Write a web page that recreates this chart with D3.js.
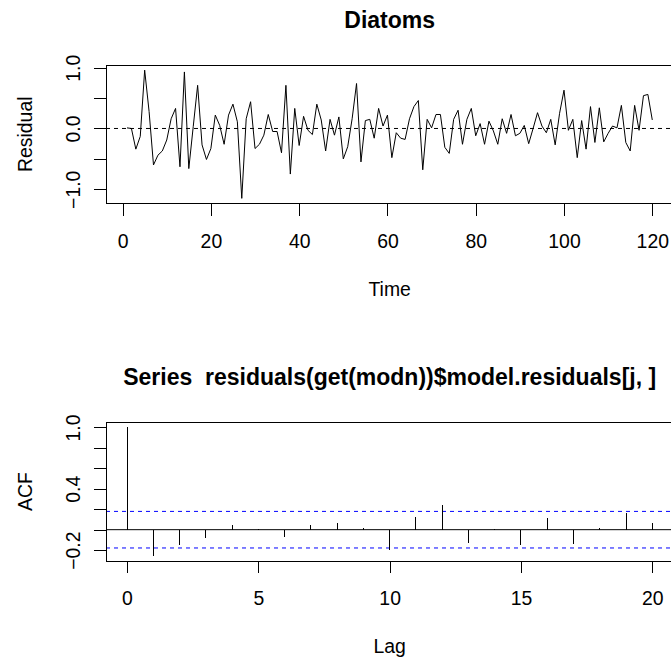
<!DOCTYPE html>
<html>
<head>
<meta charset="utf-8">
<script src="https://cdn.jsdelivr.net/npm/d3@7/dist/d3.min.js"></script>
<style>
  html, body { margin: 0; padding: 0; background: #fff; }
  svg { display: block; }
  text { font-family: "Liberation Sans", Arial, Helvetica, sans-serif; fill: #000; }
</style>
</head>
<body>
<div id="chart"></div>
<script>
// ---------------- DATA ----------------
const residuals = [
  0.01, 0.00, -0.34, -0.13, 0.96, 0.28, -0.60, -0.44, -0.37, -0.19,
  0.16, 0.33, -0.63, 0.93, -0.66, 0.03, 0.71, -0.27, -0.51, -0.33,
  0.22, 0.05, -0.26, 0.22, 0.40, 0.11, -1.15, 0.16, 0.44, -0.33,
  -0.26, -0.11, 0.23, -0.05, -0.05, -0.40, 0.71, -0.75, 0.33, -0.28,
  0.20, -0.03, -0.10, 0.40, 0.14, -0.37, 0.15, -0.11, 0.19, -0.50,
  -0.30, 0.16, 0.74, -0.55, 0.13, 0.15, -0.16, 0.33, 0.04, 0.22,
  -0.48, -0.07, -0.16, -0.18, 0.16, 0.36, 0.46, -0.68, 0.15, 0.01,
  0.23, 0.23, -0.31, -0.41, 0.15, 0.30, -0.26, 0.15, 0.33, -0.12,
  0.08, -0.26, 0.12, -0.04, -0.26, 0.16, -0.08, 0.23, -0.12, -0.08,
  0.05, -0.25, 0.00, 0.26, 0.04, -0.07, 0.15, -0.27, 0.25, 0.63,
  -0.03, 0.15, -0.48, 0.13, -0.34, 0.36, -0.23, 0.34, -0.22, -0.08,
  0.04, 0.01, 0.38, -0.23, -0.37, 0.38, -0.03, 0.54, 0.56, 0.14
];
const acfLags = [0, 1, 2, 3, 4, 5, 6, 7, 8, 9, 10, 11, 12, 13, 14, 15, 16, 17, 18, 19, 20];
const acfValues = [1.0, -0.256, -0.149, -0.078, 0.042, 0.010, -0.068, 0.042, 0.065, 0.013,
  -0.198, 0.120, 0.237, -0.126, 0.010, -0.149, 0.110, -0.139, 0.013, 0.159, 0.070];
const nObs = 120;

const timeTicks = [0, 20, 40, 60, 80, 100, 120];
const residTicks = [-1, -0.5, 0, 0.5, 1];
const residTickLabels = ["\u22121.0", "", "0.0", "", "1.0"];
const lagTicks = [0, 5, 10, 15, 20];
const acfTicks = [-0.2, 0, 0.2, 0.4, 0.6, 0.8, 1.0];
const acfTickLabels = ["\u22120.2", "", "", "0.4", "", "", "1.0"];

const topTitle = "Diatoms";
const bottomTitle = "Series  residuals(get(modn))$model.residuals[j, ]";

// ---------------- LAYOUT ----------------
const W = 671, H = 659;
const FS = 19.4, TFS = 23;
const boxL = 106, boxR = 673.3;
const top1 = 65, bot1 = 203.5;
const top2 = 422.3, bot2 = 561;

const svg = d3.select("#chart").append("svg")
  .attr("width", W).attr("height", H)
  .attr("viewBox", `0 0 ${W} ${H}`);
svg.append("rect").attr("width", W).attr("height", H).attr("fill", "#fff");

function pad(ext) { const r = ext[1] - ext[0]; return [ext[0] - 0.04 * r, ext[1] + 0.04 * r]; }

function drawAxes(g, x, y, xTicks, yTicks, yLabels, top, bot) {
  const ax = d3.axisBottom(x).tickValues(xTicks).tickSize(12).tickSizeOuter(0).tickFormat(d => d);
  const gx = g.append("g").attr("transform", `translate(0,${bot})`).call(ax);
  gx.select(".domain").remove();
  gx.selectAll(".tick line").attr("stroke", "#000").attr("shape-rendering", "crispEdges");
  gx.selectAll(".tick text").attr("y", 44).attr("dy", null)
    .style("font-size", FS + "px").attr("fill", "#000");
  gx.append("line").attr("x1", x(xTicks[0])).attr("x2", x(xTicks[xTicks.length - 1]))
    .attr("stroke", "#000").attr("shape-rendering", "crispEdges");

  const ay = d3.axisLeft(y).tickValues(yTicks).tickSize(12).tickSizeOuter(0)
    .tickFormat((d, i) => yLabels[i]);
  const gy = g.append("g").attr("transform", `translate(${boxL},0)`).call(ay);
  gy.select(".domain").remove();
  gy.selectAll(".tick line").attr("stroke", "#000").attr("shape-rendering", "crispEdges");
  gy.selectAll(".tick text").attr("x", null).attr("dy", null)
    .attr("transform", "translate(-26,0) rotate(-90)")
    .attr("text-anchor", "middle")
    .style("font-size", FS + "px").attr("fill", "#000");
  gy.append("line").attr("y1", y(yTicks[0])).attr("y2", y(yTicks[yTicks.length - 1]))
    .attr("stroke", "#000").attr("shape-rendering", "crispEdges");

  g.append("rect").attr("x", boxL).attr("y", top).attr("width", boxR - boxL).attr("height", bot - top)
    .attr("fill", "none").attr("stroke", "#000").attr("shape-rendering", "crispEdges");
}

// ---------------- TOP PANEL ----------------
const g1 = svg.append("g");
const x1 = d3.scaleLinear().domain(pad([1, residuals.length])).range([boxL, boxR]);
const y1 = d3.scaleLinear().domain(pad(d3.extent(residuals))).range([bot1, top1]);

g1.append("line").attr("x1", boxL).attr("x2", boxR).attr("y1", y1(0)).attr("y2", y1(0))
  .attr("stroke", "#000").attr("stroke-dasharray", "4,4");

g1.append("path").datum(residuals)
  .attr("fill", "none").attr("stroke", "#000").attr("stroke-width", 1)
  .attr("stroke-linejoin", "round")
  .attr("d", d3.line().x((d, i) => x1(i + 1)).y(d => y1(d)));

drawAxes(g1, x1, y1, timeTicks, residTicks, residTickLabels, top1, bot1);

g1.append("text").attr("x", (boxL + boxR) / 2).attr("y", 27.5).attr("text-anchor", "middle")
  .style("font-size", TFS + "px").style("font-weight", "bold").text(topTitle);
g1.append("text").attr("x", (boxL + boxR) / 2).attr("y", bot1 + 92).attr("text-anchor", "middle")
  .style("font-size", FS + "px").text("Time");
g1.append("text").attr("transform", `translate(32,${(top1 + bot1) / 2}) rotate(-90)`)
  .attr("text-anchor", "middle").style("font-size", FS + "px").text("Residual");

// ---------------- ACF PANEL ----------------
const g2 = svg.append("g");
const clim = 1.96 / Math.sqrt(nObs);
const x2 = d3.scaleLinear().domain(pad(d3.extent(acfLags))).range([boxL, boxR]);
const y2 = d3.scaleLinear()
  .domain(pad([Math.min(d3.min(acfValues), -clim), Math.max(d3.max(acfValues), clim)]))
  .range([bot2, top2]);

g2.append("line").attr("x1", boxL).attr("x2", boxR).attr("y1", y2(0)).attr("y2", y2(0))
  .attr("stroke", "#000");
[clim, -clim].forEach(c => {
  g2.append("line").attr("x1", boxL).attr("x2", boxR).attr("y1", y2(c)).attr("y2", y2(c))
    .attr("stroke", "#0000ff").attr("stroke-dasharray", "4,4");
});
g2.selectAll("line.stick").data(acfValues).enter().append("line")
  .attr("class", "stick")
  .attr("x1", (d, i) => x2(acfLags[i])).attr("x2", (d, i) => x2(acfLags[i]))
  .attr("y1", y2(0)).attr("y2", d => y2(d))
  .attr("stroke", "#000").attr("shape-rendering", "crispEdges");

drawAxes(g2, x2, y2, lagTicks, acfTicks, acfTickLabels, top2, bot2);

g2.append("text").attr("x", (boxL + boxR) / 2).attr("y", top2 - 37).attr("text-anchor", "middle")
  .style("font-size", TFS + "px").style("font-weight", "bold").style("white-space", "pre")
  .attr("xml:space", "preserve").text(bottomTitle);
g2.append("text").attr("x", (boxL + boxR) / 2).attr("y", bot2 + 92).attr("text-anchor", "middle")
  .style("font-size", FS + "px").text("Lag");
g2.append("text").attr("transform", `translate(32,${(top2 + bot2) / 2}) rotate(-90)`)
  .attr("text-anchor", "middle").style("font-size", FS + "px").text("ACF");
</script>
</body>
</html>
